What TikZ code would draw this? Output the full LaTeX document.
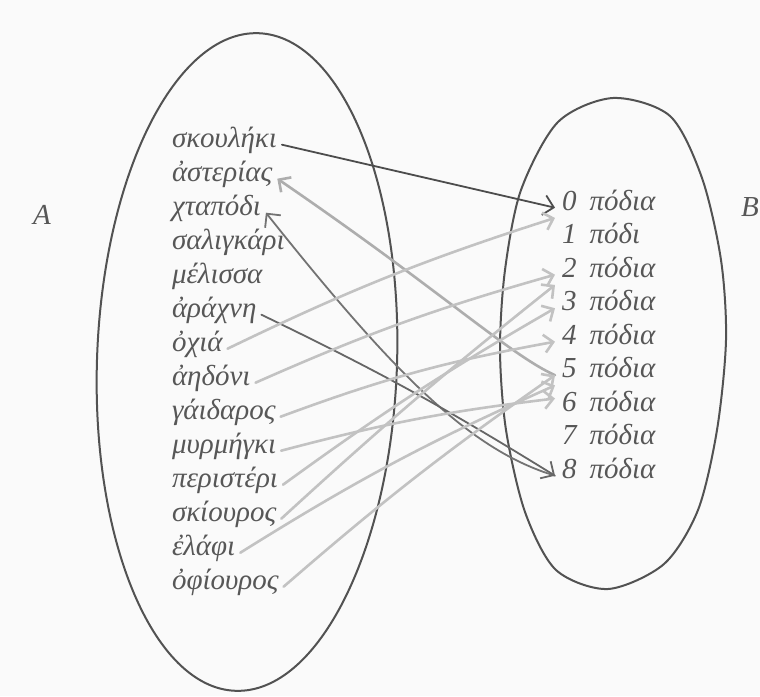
\documentclass[tikz,border=0pt]{standalone}
\usepackage{fontspec}
\setmainfont{Liberation Serif}
\usetikzlibrary{arrows.meta}

\begin{document}
\begin{tikzpicture}[x=1pt, y=-1pt, line cap=round,
    font=\fontsize{29}{34}\selectfont\itshape]

    % Styles for the two sets, the words and the hand-drawn arrows
    \tikzset{
        setline/.style={draw=black!68, line width=2pt},
        word/.style={anchor=base west, inner sep=0pt, outer sep=5pt,
            text=black!66, text height=1.2ex, text depth=0.2ex},
        legs/.style={word, outer sep=7pt},
        ink/.style={draw=black!70, line width=1.8pt,
            -{Straight Barb[length=10pt, width=20pt]}},
        graph/.style={draw=black!50, line width=1.8pt,
            -{Straight Barb[length=10pt, width=20pt]}},
        pencil/.style={draw=black!24, line width=2.6pt,
            -{Straight Barb[length=9pt, width=18pt]}}
    }
    \fill[black!2] (0,0) rectangle (760,696);
    \useasboundingbox (0,0) rectangle (760,696);

    % ==========================================
    % The two sets
    % ==========================================
    \draw[setline, rotate around={-2:(247,362)}] (247,362) ellipse [x radius=150, y radius=329];
    \draw[setline] plot[smooth cycle] coordinates {
        (613,98) (670,116) (702,178) (721,260) (726,340) (717,430)
        (698,510) (664,564) (608,589) (556,570) (525,512) (506,430)
        (500,350) (505,270) (521,190) (558,122)};

    \node[text=black!66] (setA) at (42,215) {A};
    \node[text=black!66] (setB) at (750,207) {B};

    % ==========================================
    % Animals (set A) and numbers of legs (set B)
    % ==========================================
    \foreach \w [count=\i from 0] in {σκουλήκι, ἀστερίας, χταπόδι, σαλιγκάρι,
        μέλισσα, ἀράχνη, ὀχιά, ἀηδόνι, γάιδαρος, μυρμήγκι, περιστέρι,
        σκίουρος, ἐλάφι, ὀφίουρος}
        \node[word] (a\i) at (167,147+34*\i) {\w};

    \foreach \n/\w in {0/πόδια, 1/πόδι, 2/πόδια, 3/πόδια, 4/πόδια,
        5/πόδια, 6/πόδια, 7/πόδια, 8/πόδια}
        \node[legs] (b\n) at (555,210+33.5*\n) {\n\hspace{0.45em}\w};

    % ==========================================
    % Arrows
    % ==========================================
    \draw[ink] (a0.east) -- (b0.west);
    \draw[graph, draw=black!55] (b8.west) .. controls (470,450) and (395,375) .. (a2.east);
    \draw[graph, draw=black!60] (a5.east) to[bend left=3] (b8.west);
    \draw[pencil, draw=black!32] (b5.west) .. controls (510,355) and (440,290) .. (a1.east);

    % pencil strokes
    \draw[pencil] (a6.east) to[bend left=4] (b0.south west);
    \draw[pencil] (a7.east) to[bend left=4] (b2.west);
    \draw[pencil] (a8.east) to[bend left=5] (b4.west);
    \draw[pencil] (a9.east) to[bend left=4] (b6.north west);
    \draw[pencil] (a10.east) to[bend left=3] (b3.west);
    \draw[pencil] (a11.east) to[bend left=2] (b2.south west);
    \draw[pencil] (a12.east) to[bend left=4] (b5.south west);
    \draw[pencil] (a13.east) to[bend left=3] (b5.west);

\end{tikzpicture}
\end{document}
